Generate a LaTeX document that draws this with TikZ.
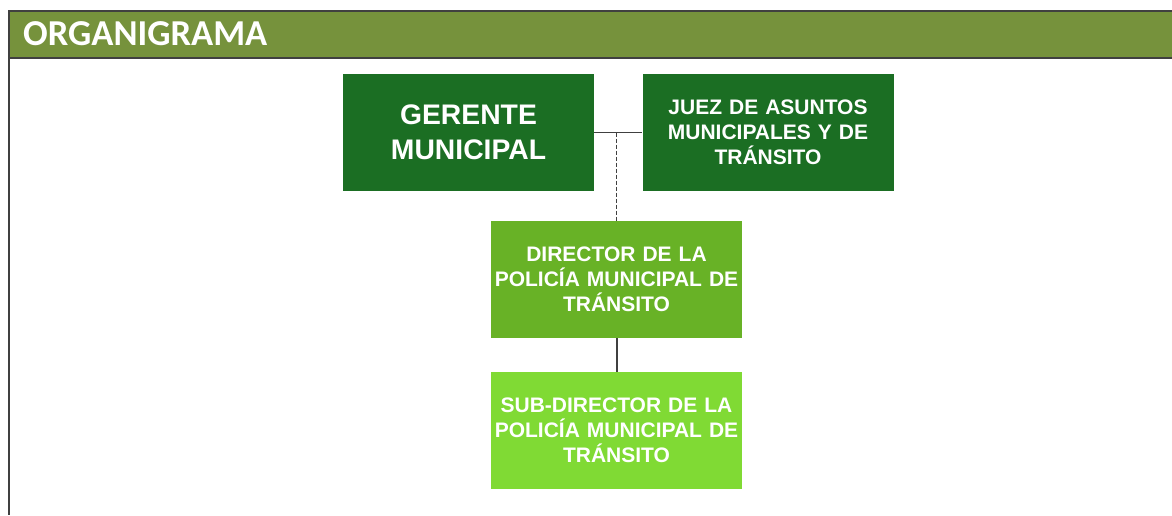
\documentclass[tikz,border=0pt]{standalone}
\usepackage{fontspec}
\setmainfont{Liberation Sans}
\newfontfamily\titlefont{Carlito}
\usetikzlibrary{positioning}
\definecolor{headgreen}{RGB}{118,146,60}
\definecolor{darkgreen}{RGB}{27,110,35}
\definecolor{midgreen}{RGB}{104,178,38}
\definecolor{lightgreen}{RGB}{128,218,52}
\definecolor{linegray}{RGB}{64,64,64}

\begin{document}
\begin{tikzpicture}[x=1pt,y=-1pt,
    cargo/.style={text=white,align=center,inner sep=0pt,
      minimum width=251pt,minimum height=117pt,text width=247pt,
      font=\bfseries\fontsize{21}{25}\selectfont}]
     \useasboundingbox (0,0) rectangle (1172,515);
     % cabecera
     \fill[headgreen] (9,11) rectangle (1172,58);
     \draw[linegray,line width=1.5pt] (1172,11) -- (9,11) -- (9,515);
     \draw[linegray,line width=1.5pt] (9,58) -- (1172,58);
     \node[anchor=west,text=white,inner sep=0pt,
       font=\titlefont\bfseries\fontsize{36.5}{40}\selectfont] (titulo) at (23,34) {ORGANIGRAMA};
     % cargos
     \node[cargo,fill=darkgreen,font=\bfseries\fontsize{28.3}{35}\selectfont] (gerente) at (468.5,132.5) {GERENTE\\MUNICIPAL};
     \node[cargo,fill=darkgreen] (juez) at (768,132.5) {JUEZ DE ASUNTOS\\MUNICIPALES Y DE\\TRÁNSITO};
     \node[cargo,fill=midgreen] (director) at (616.5,279.5) {DIRECTOR DE LA\\POLICÍA MUNICIPAL DE\\TRÁNSITO};
     \node[cargo,fill=lightgreen] (subdirector) at (616.5,430.5) {SUB-DIRECTOR DE LA\\POLICÍA MUNICIPAL DE\\TRÁNSITO};
     % lineas
     \draw[linegray,line width=1pt] (gerente.east) -- (juez.west);
     \coordinate (union) at (director.north |- gerente.east);
     \draw[linegray,dash pattern=on 4pt off 2pt] (union) -- (director.north);
     \draw[linegray,line width=2pt] (director.south) -- (subdirector.north);
\end{tikzpicture}
\end{document}
